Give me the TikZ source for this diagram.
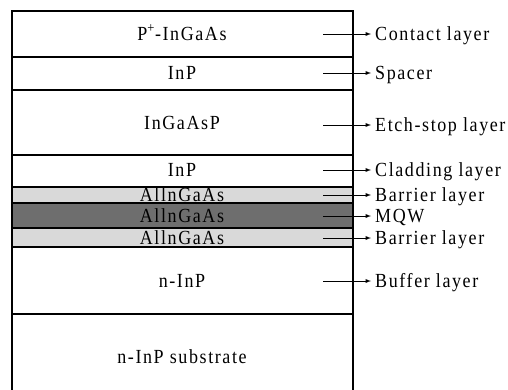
\documentclass[tikz,border=0pt]{standalone}
\usepackage{fontspec}
\setmainfont[LetterSpace=8,FakeStretch=0.9]{Liberation Serif}
\usetikzlibrary{arrows}

\begin{document}
\begin{tikzpicture}[x=1pt,y=-1pt,font=\fontsize{20}{24}\selectfont,
	layer/.style={draw,line width=1.2pt},
	mat/.style={inner sep=0pt,text height=13pt,text depth=0pt},
	lbl/.style={anchor=west,inner sep=4pt,text height=13pt,text depth=0pt},
	pointer/.style={-latex,line width=0.9pt}]
\useasboundingbox (0,0) rectangle (508,389);
% layer stack
\draw[layer] (12,11) rectangle (353,57);
\draw[layer] (12,57) rectangle (353,90);
\draw[layer] (12,90) rectangle (353,155);
\draw[layer] (12,155) rectangle (353,187);
\draw[layer,fill=black!15] (12,187) rectangle (353,203);
\draw[layer,fill=black!57] (12,203) rectangle (353,228);
\draw[layer,fill=black!15] (12,228) rectangle (353,247);
\draw[layer] (12,247) rectangle (353,314);
\draw[layer] (12,314) rectangle (353,400);
% materials
\node[mat] (contact) at (182,34) {P\textsuperscript{+}-InGaAs};
\node[mat] (spacer) at (182,73) {InP};
\node[mat] (etch) at (182,123) {InGaAsP};
\node[mat] (clad) at (182,170) {InP};
\node[mat] (bar1) at (182,195) {AllnGaAs};
\node[mat] (mqw) at (182,216) {AllnGaAs};
\node[mat] (bar2) at (182,238) {AllnGaAs};
\node[mat] (buffer) at (182,281) {n-InP};
\node[mat] (sub) at (182,357) {n-InP substrate};
% arrow starts
\coordinate (a1) at (323,34);
\coordinate (a2) at (323,73);
\coordinate (a3) at (323,125);
\coordinate (a4) at (323,170);
\coordinate (a5) at (323,195);
\coordinate (a6) at (323,216);
\coordinate (a7) at (323,238);
\coordinate (a8) at (323,281);
% names
\node[lbl] (L1) at (371,34) {Contact layer};
\node[lbl] (L2) at (371,73) {Spacer};
\node[lbl] (L3) at (371,125) {Etch-stop layer};
\node[lbl] (L4) at (371,170) {Cladding layer};
\node[lbl] (L5) at (371,195) {Barrier layer};
\node[lbl] (L6) at (371,216) {MQW};
\node[lbl] (L7) at (371,238) {Barrier layer};
\node[lbl] (L8) at (371,281) {Buffer layer};
\draw[pointer] (a1)--(L1);
\draw[pointer] (a2)--(L2);
\draw[pointer] (a3)--(L3);
\draw[pointer] (a4)--(L4);
\draw[pointer] (a5)--(L5);
\draw[pointer] (a6)--(L6);
\draw[pointer] (a7)--(L7);
\draw[pointer] (a8)--(L8);
\end{tikzpicture}
\end{document}
